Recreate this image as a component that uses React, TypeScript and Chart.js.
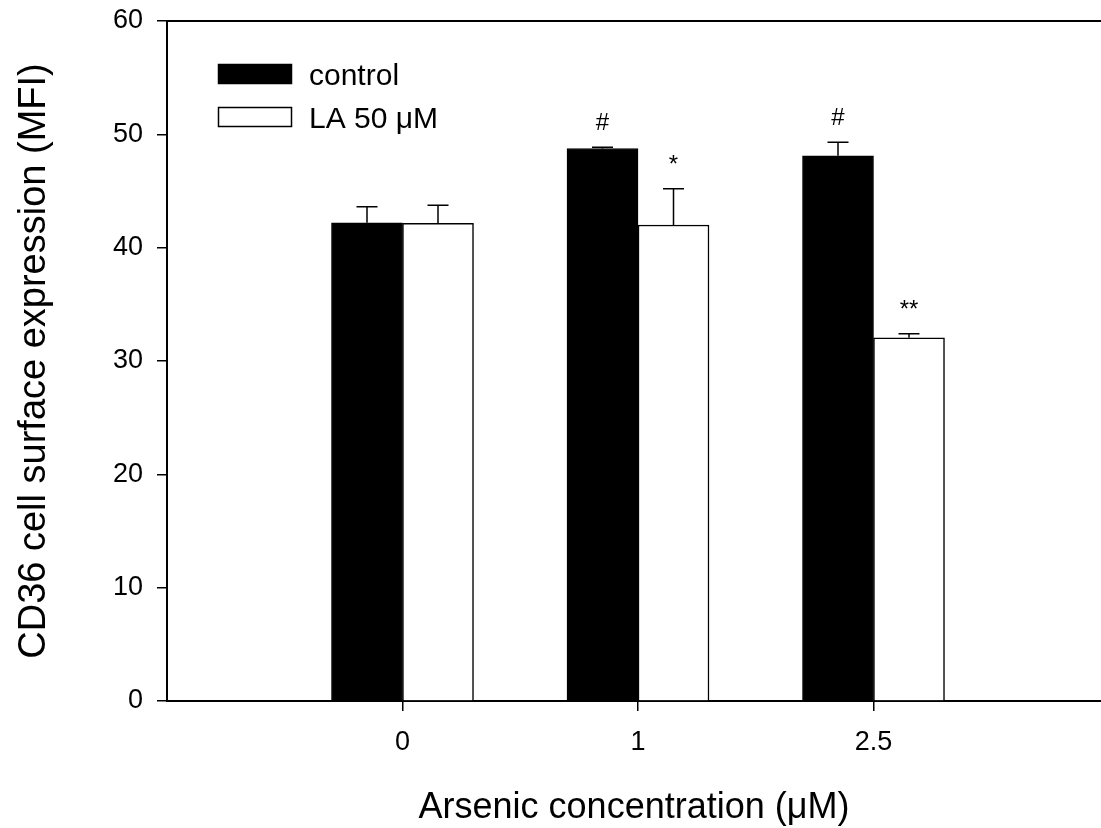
import React, { useEffect, useRef } from "react";
import { Chart, registerables } from "chart.js";

Chart.register(...registerables);

const categories = ["0", "1", "2.5"];
const seriesLabels = ["control", "LA 50 \u03BCM"];
const controlValues = [42.2, 48.75, 48.1];
const controlErrors = [1.4, 0.1, 1.2];
const laValues = [42.15, 42.0, 32.05];
const laErrors = [1.6, 3.2, 0.35];
const controlMarks = ["", "#", "#"];
const laMarks = ["", "*", "**"];
const yTickValues = [0, 10, 20, 30, 40, 50, 60];

const FONT = '"Liberation Sans", Arial, Helvetica, sans-serif';

const extrasPlugin = {
  id: "extras",
  afterDatasetsDraw(chart: any) {
    const ctx = chart.ctx;
    const yScale = chart.scales.y;
    const area = chart.chartArea;
    const errs = [controlErrors, laErrors];
    const vals = [controlValues, laValues];
    const marks = [controlMarks, laMarks];
    ctx.save();
    // top frame line
    ctx.strokeStyle = "#000";
    ctx.lineWidth = 2;
    ctx.beginPath();
    ctx.moveTo(area.left - 1, area.top);
    ctx.lineTo(area.right, area.top);
    ctx.stroke();
    // error bars and significance marks
    for (let d = 0; d < 2; d++) {
      const meta = chart.getDatasetMeta(d);
      meta.data.forEach((bar: any, i: number) => {
        const x = bar.x;
        const yBase = yScale.getPixelForValue(vals[d][i]);
        const yTop = yScale.getPixelForValue(vals[d][i] + errs[d][i]);
        ctx.strokeStyle = "#000";
        ctx.lineWidth = 1.5;
        ctx.beginPath();
        ctx.moveTo(x, yBase);
        ctx.lineTo(x, yTop);
        ctx.moveTo(x - 10.5, yTop);
        ctx.lineTo(x + 10.5, yTop);
        ctx.stroke();
        const m = marks[d][i];
        if (m) {
          ctx.fillStyle = "#000";
          ctx.font = `24px ${FONT}`;
          ctx.textAlign = "center";
          ctx.textBaseline = "alphabetic";
          ctx.fillText(m, x, yTop - 17);
        }
      });
    }
    // legend
    const rows = [74, 117];
    chart.data.datasets.forEach((ds: any, i: number) => {
      const cy = rows[i];
      ctx.fillStyle = ds.backgroundColor;
      ctx.fillRect(218, cy - 10, 74, 20);
      ctx.strokeStyle = "#000";
      ctx.lineWidth = 1.5;
      ctx.strokeRect(218.5, cy - 9.5, 73, 19);
      ctx.fillStyle = "#000";
      ctx.font = `30px ${FONT}`;
      ctx.textAlign = "left";
      ctx.textBaseline = "alphabetic";
      ctx.fillText(ds.label, 309, cy + 11);
    });
    ctx.restore();
  },
};

export default function App() {
  const ref = useRef<HTMLCanvasElement | null>(null);
  useEffect(() => {
    if (!ref.current) return;
    Chart.defaults.font.family = FONT;
    Chart.defaults.color = "#000";
    const chart = new Chart(ref.current, {
      type: "bar",
      data: {
        datasets: [
          {
            label: seriesLabels[0],
            data: controlValues.map((v, i) => ({ x: i + 1, y: v })),
            backgroundColor: "#000000",
            borderColor: "#000000",
            borderWidth: 1,
          },
          {
            label: seriesLabels[1],
            data: laValues.map((v, i) => ({ x: i + 1, y: v })),
            backgroundColor: "#ffffff",
            borderColor: "#000000",
            borderWidth: 1.5,
          },
        ],
      },
      options: {
        animation: false,
        responsive: false,
        devicePixelRatio: 1,
        barThickness: 71,
        layout: { padding: { top: 21, right: 0, bottom: 0, left: 0 } },
        plugins: { legend: { display: false }, tooltip: { enabled: false } },
        scales: {
          x: {
            type: "linear",
            offset: false,
            min: 0,
            max: 3.966,
            afterFit: (s: any) => {
              s.height = 127;
              s.paddingLeft = 0;
              s.paddingRight = 0;
            },
            afterBuildTicks: (s: any) => {
              s.ticks = categories.map((_, i) => ({ value: i + 1 }));
            },
            ticks: {
              autoSkip: false,
              maxRotation: 0,
              padding: 15,
              font: { size: 27 },
              color: "#000",
              callback: (v: any) => categories[Math.round(Number(v)) - 1] ?? "",
            },
            grid: {
              display: true,
              offset: false,
              drawOnChartArea: false,
              drawTicks: true,
              tickLength: 10,
              color: "#000",
              lineWidth: 1.5,
            },
            border: { display: true, color: "#000", width: 2 },
            title: {
              display: true,
              text: "Arsenic concentration (\u03BCM)",
              color: "#000",
              font: { size: 36, lineHeight: 1 },
              padding: { top: 0, bottom: 2 },
            },
          },
          y: {
            type: "linear",
            min: 0,
            max: 60,
            afterFit: (s: any) => {
              s.width = 167;
              s.paddingTop = 0;
              s.paddingBottom = 0;
            },
            afterBuildTicks: (s: any) => {
              s.ticks = yTickValues.map((v) => ({ value: v }));
            },
            ticks: {
              padding: 14,
              font: { size: 27 },
              color: "#000",
            },
            grid: {
              display: true,
              drawOnChartArea: false,
              drawTicks: true,
              tickLength: 10,
              color: "#000",
              lineWidth: 1.5,
            },
            border: { display: true, color: "#000", width: 2 },
            title: {
              display: true,
              text: "CD36 cell surface expression (MFI)",
              color: "#000",
              font: { size: 38, lineHeight: 1 },
              padding: { top: 16, bottom: 0 },
            },
          },
        },
      } as any,
      plugins: [extrasPlugin],
    });
    return () => chart.destroy();
  }, []);
  return (
    <div style={{ position: "absolute", left: 0, top: 0, width: 1101, height: 828 }}>
      <canvas ref={ref} width={1101} height={828} style={{ display: "block" }} />
    </div>
  );
}
